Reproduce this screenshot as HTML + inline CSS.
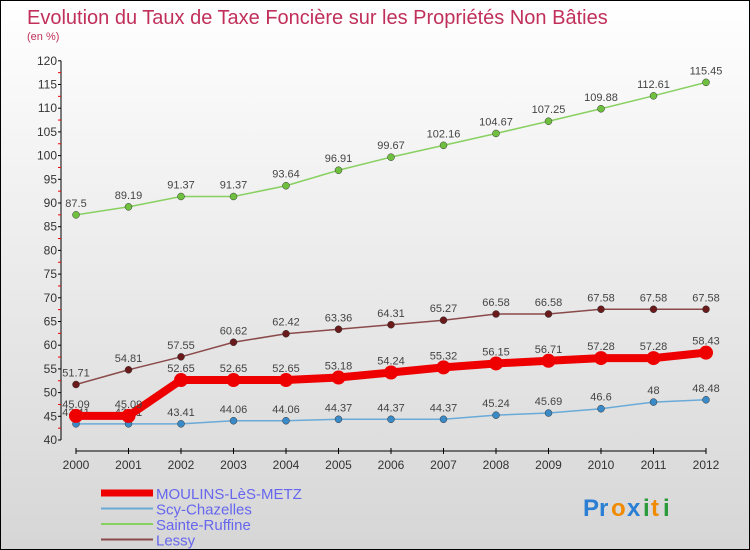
<!DOCTYPE html>
<html><head><meta charset="utf-8"><style>
body{margin:0}
#c{position:relative;width:748px;height:548px;border:1px solid #000;background:linear-gradient(#fff,#d6d6d6);overflow:hidden;font-family:"Liberation Sans",sans-serif}
</style></head><body>
<div id="c">
<svg id="s" width="748" height="548" style="position:absolute;left:0;top:0">
<text x="26" y="23" font-size="20" fill="#c0305a">Evolution du Taux de Taxe Foncière sur les Propriétés Non Bâties</text>
<text x="26" y="39" font-size="11" fill="#c0305a">(en %)</text>
<g id="axes"></g><g id="series"></g><g id="legend"></g>
<g font-size="24" font-weight="bold">
<text x="582" y="515" fill="#2a7fd4">Pr</text><text x="610" y="515" fill="#f08a00">o</text><text x="626" y="515" fill="#2a7fd4">x</text><text x="642" y="515" fill="#2a9a3a">i</text><text x="650" y="515" fill="#f08a00">t</text><text x="662" y="515" fill="#2a9a3a">i</text>
</g>
</svg>
</div>
<script>
const years=["2000","2001","2002","2003","2004","2005","2006","2007","2008","2009","2010","2011","2012"];
const yTicks=[40,45,50,55,60,65,70,75,80,85,90,95,100,105,110,115,120];
const moulins=[45.09,45.09,52.65,52.65,52.65,53.18,54.24,55.32,56.15,56.71,57.28,57.28,58.43];
const scy=[43.41,43.41,43.41,44.06,44.06,44.37,44.37,44.37,45.24,45.69,46.6,48,48.48];
const sainte=[87.5,89.19,91.37,91.37,93.64,96.91,99.67,102.16,104.67,107.25,109.88,112.61,115.45];
const lessy=[51.71,54.81,57.55,60.62,62.42,63.36,64.31,65.27,66.58,66.58,67.58,67.58,67.58];
const NS="http://www.w3.org/2000/svg";
const X=i=>75+i*52.5, Y=v=>439-(v-40)*4.74;
function mk(t,a,p){const e=document.createElementNS(NS,t);for(const k in a)e.setAttribute(k,a[k]);p.appendChild(e);return e;}
const ax=document.getElementById('axes');
const yl=mk('line',{x1:60,y1:Y(120),x2:60,y2:Y(40),stroke:'#000'},ax);


yTicks.forEach(v=>{mk('line',{x1:57,x2:60,y1:Y(v),y2:Y(v),stroke:'#000'},ax);
 if(v<120)mk('line',{x1:57,x2:60,y1:Y(v+2.5),y2:Y(v+2.5),stroke:'#e00'},ax);
 const t=mk('text',{x:56,y:Y(v)+4,'text-anchor':'end','font-size':12,fill:'#333'},ax);t.textContent=v;
 
 });
const xl=mk('line',{x1:75,x2:X(12),y1:450,y2:450,stroke:'#000'},ax);


years.forEach((y,i)=>{mk('line',{x1:X(i),x2:X(i),y1:447,y2:453,stroke:'#000'},ax);
 const t=mk('text',{x:X(i),y:468,'text-anchor':'middle','font-size':12,fill:'#333'},ax);t.textContent=y;
 
 });
const sg=document.getElementById('series');
const series=[
 {n:'sainte-ruffine',d:sainte,c:'#88d060',f:'#70c040',w:1.5,r:3.5,name:'Sainte-Ruffine'},
 {n:'lessy',d:lessy,c:'#8a4a4a',f:'#6a1a1a',w:1.5,r:3.5,name:'Lessy'},
 {n:'scy-chazelles',d:scy,c:'#6aaad8',f:'#3a8ac8',w:1.5,r:3.5,name:'Scy-Chazelles'},
 {n:'moulins-les-metz',d:moulins,c:'#ee0000',f:'#ee0000',w:8,r:7,name:'MOULINS-LèS-METZ'}];
series.forEach(s=>{
 const g=mk('g',{},sg);
 
 
 const p=mk('polyline',{points:s.d.map((v,i)=>X(i)+','+Y(v)).join(' '),fill:'none',stroke:s.c,'stroke-width':s.w},g);
 
 
 s.d.forEach((v,i)=>{const c=mk('circle',{cx:X(i),cy:Y(v),r:s.r,fill:s.f,stroke:'#333','stroke-width':s.w>2?0:0.5},g);
  
  
  const t=mk('text',{x:X(i),y:Y(v)-8,'text-anchor':'middle','font-size':11,fill:'#444'},g);t.textContent=v;
  
  });
});
const lg=document.getElementById('legend');
[series[3],series[2],series[0],series[1]].forEach((s,i)=>{
 const y=492+i*15.5;
 const g=mk('g',{},lg);
 
 
 mk('line',{x1:100,x2:152,y1:y,y2:y,stroke:s.c,'stroke-width':s.w>2?7:2},g);
 const t=mk('text',{x:155,y:y+6,'font-size':15,fill:'#6666ee'},g);t.textContent=s.name;
});
</script>
</body></html>
